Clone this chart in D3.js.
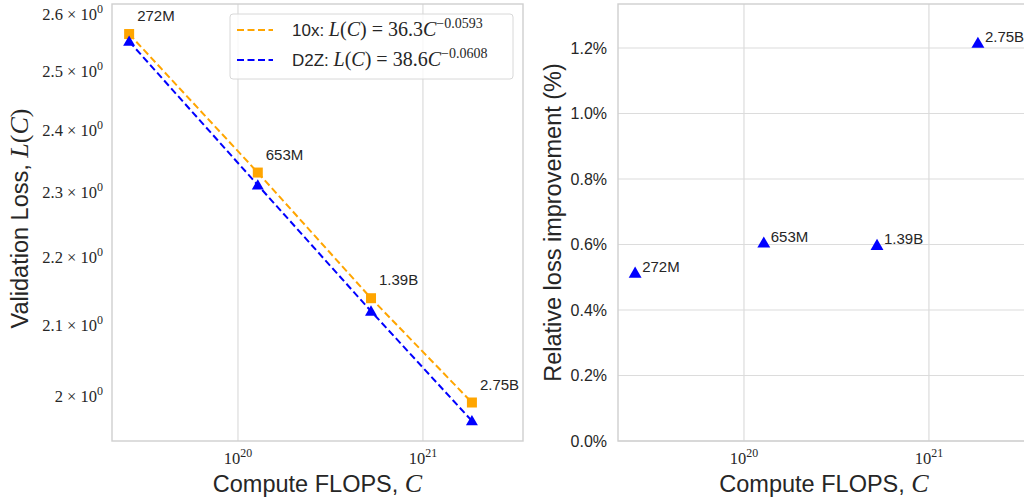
<!DOCTYPE html>
<html><head><meta charset="utf-8">
<script src="https://cdn.jsdelivr.net/npm/d3@7"></script>
<style>
html,body{margin:0;padding:0;background:#fff;}
svg{display:block;}
</style></head>
<body>
<svg id="chart" width="1024" height="497"></svg>
<script>
// ---------------- data ----------------
const models = ["272M", "653M", "1.39B", "2.75B"];
const computeFlops = [2.58e19, 1.28e20, 5.24e20, 1.84e21];
const loss10x = [2.566, 2.333, 2.140, 1.992];
const lossD2Z = [2.553, 2.313, 2.121, 1.967];
const relImprovement = [0.513, 0.605, 0.598, 1.215];
const fit10x = {label: "10x:", a: "36.3", b: "−0.0593"};
const fitD2Z = {label: "D2Z:", a: "38.6", b: "−0.0608"};
const leftYTicks = [2.0, 2.1, 2.2, 2.3, 2.4, 2.5, 2.6];
const leftYTickLabels = ["2", "2.1", "2.2", "2.3", "2.4", "2.5", "2.6"];
const xTicks = [1e20, 1e21];
const xTickExp = ["20", "21"];
const rightYTicks = [0, 0.2, 0.4, 0.6, 0.8, 1.0, 1.2];
const rightYTickLabels = ["0.0%", "0.2%", "0.4%", "0.6%", "0.8%", "1.0%", "1.2%"];

// ---------------- layout ----------------
const svg = d3.select("#chart");
const SANS = "'Liberation Sans', Arial, sans-serif";
const SERIF = "'Liberation Serif', 'Times New Roman', serif";
const TXT = "#262626";
const GRID = "#dcdcdc";
const SPINE = "#cfcfcf";
const ORANGE = "#FFA500", BLUE = "#0000FF";

const L = {x0: 112, x1: 523, y0: 4, y1: 441};
const R = {x0: 618, x1: 1029, y0: 4, y1: 441};

const xDom = [Math.pow(10, 19.319), Math.pow(10, 21.541)];
const xL = d3.scaleLog().domain(xDom).range([L.x0, L.x1]);
const xR = d3.scaleLog().domain(xDom).range([R.x0, R.x1]);
const yL = d3.scaleLog().domain([1.940, 2.6195]).range([L.y1, L.y0]);
const yR = d3.scaleLinear().domain([0, 1.3344]).range([R.y1, R.y0]);

svg.append("defs").append("clipPath").attr("id", "clipR")
  .append("rect").attr("x", R.x0).attr("y", R.y0 - 2).attr("width", R.x1 - R.x0).attr("height", R.y1 - R.y0 + 4);

// ---------------- left panel ----------------
const gl = svg.append("g");
gl.selectAll("line.vg").data(xTicks).join("line")
  .attr("x1", d => xL(d)).attr("x2", d => xL(d)).attr("y1", L.y0).attr("y2", L.y1)
  .attr("stroke", GRID).attr("stroke-width", 1.2);
gl.append("rect").attr("x", L.x0).attr("y", L.y0).attr("width", L.x1 - L.x0).attr("height", L.y1 - L.y0)
  .attr("fill", "none").attr("stroke", SPINE).attr("stroke-width", 1.4);

function powerLabel(g, x, y, base, exp, anchor, size) {
  const t = g.append("text").attr("x", x).attr("y", y).attr("text-anchor", anchor)
    .attr("font-family", SERIF).attr("font-size", size).attr("fill", TXT);
  t.append("tspan").text(base);
  t.append("tspan").attr("dy", -size * 0.42).attr("font-size", size * 0.72).text(exp);
  return t;
}
xTicks.forEach((d, i) => {
  powerLabel(gl, xL(d), 464, "10", xTickExp[i], "middle", 16.5);
  powerLabel(svg, xR(d), 464, "10", xTickExp[i], "middle", 16.5);
});
leftYTicks.forEach((d, i) => {
  const t = gl.append("text").attr("x", 103).attr("y", yL(d) + 5).attr("text-anchor", "end")
    .attr("font-family", SERIF).attr("font-size", 16.5).attr("fill", TXT);
  t.append("tspan").text(leftYTickLabels[i] + " × 10");
  t.append("tspan").attr("dy", -7).attr("font-size", 12).text("0");
});

// data lines + markers
const lineL = d3.line().x(d => xL(d[0])).y(d => yL(d[1]));
const ptsO = computeFlops.map((c, i) => [c, loss10x[i]]);
const ptsB = computeFlops.map((c, i) => [c, lossD2Z[i]]);
gl.append("path").attr("d", lineL(ptsO)).attr("fill", "none").attr("stroke", ORANGE)
  .attr("stroke-width", 2).attr("stroke-dasharray", "7,3.5");
gl.selectAll("rect.sq").data(ptsO).join("rect")
  .attr("x", d => xL(d[0]) - 5).attr("y", d => yL(d[1]) - 5).attr("width", 10).attr("height", 10)
  .attr("fill", ORANGE);
gl.append("path").attr("d", lineL(ptsB)).attr("fill", "none").attr("stroke", BLUE)
  .attr("stroke-width", 2).attr("stroke-dasharray", "7,3.5");
const tri = d3.symbol().type(d3.symbolTriangle).size(62);
gl.selectAll("path.tri").data(ptsB).join("path")
  .attr("transform", d => `translate(${xL(d[0])},${yL(d[1]) + 1})`).attr("d", tri).attr("fill", BLUE);
ptsO.forEach((d, i) => {
  gl.append("text").attr("x", xL(d[0]) + 8).attr("y", yL(d[1]) - 13)
    .attr("font-family", SANS).attr("font-size", 15).attr("fill", TXT).text(models[i]);
});

// legend
const lg = gl.append("g");
lg.append("rect").attr("x", 230).attr("y", 14).attr("width", 283).attr("height", 65).attr("rx", 3)
  .attr("fill", "rgba(255,255,255,0.8)").attr("stroke", "#d8d8d8").attr("stroke-width", 1);
[[fit10x, ORANGE, 30], [fitD2Z, BLUE, 60]].forEach(([f, col, y]) => {
  lg.append("line").attr("x1", 237).attr("x2", 273).attr("y1", y).attr("y2", y)
    .attr("stroke", col).attr("stroke-width", 2).attr("stroke-dasharray", "7,3.5");
  const t = lg.append("text").attr("x", 292).attr("y", y + 6).attr("fill", TXT).attr("font-size", 17);
  t.append("tspan").attr("font-family", SANS).text(f.label + " ");
  t.append("tspan").attr("font-family", SERIF).attr("font-style", "italic").attr("font-size", 20).text("L");
  t.append("tspan").attr("font-family", SERIF).attr("font-size", 20).text("(");
  t.append("tspan").attr("font-family", SERIF).attr("font-style", "italic").attr("font-size", 20).text("C");
  t.append("tspan").attr("font-family", SERIF).attr("font-size", 20).text(") = " + f.a);
  t.append("tspan").attr("font-family", SERIF).attr("font-style", "italic").attr("font-size", 20).text("C");
  t.append("tspan").attr("font-family", SERIF).attr("font-size", 14).attr("dy", -8).text(f.b);
});

function xTitle(cx) {
  const t = svg.append("text").attr("x", cx).attr("y", 492).attr("text-anchor", "middle")
    .attr("fill", TXT).attr("font-size", 23.5);
  t.append("tspan").attr("font-family", SANS).text("Compute FLOPS, ");
  t.append("tspan").attr("font-family", SERIF).attr("font-style", "italic").attr("font-size", 26).text("C");
}
xTitle((L.x0 + L.x1) / 2);
xTitle(318 + (R.x0 - L.x0));
{
  const t = svg.append("text").attr("transform", `translate(28,${(L.y0 + L.y1) / 2 - 4}) rotate(-90)`)
    .attr("text-anchor", "middle").attr("fill", TXT).attr("font-size", 23.5);
  t.append("tspan").attr("font-family", SANS).text("Validation Loss, ");
  t.append("tspan").attr("font-family", SERIF).attr("font-style", "italic").attr("font-size", 26).text("L");
  t.append("tspan").attr("font-family", SERIF).attr("font-size", 26).text("(");
  t.append("tspan").attr("font-family", SERIF).attr("font-style", "italic").attr("font-size", 26).text("C");
  t.append("tspan").attr("font-family", SERIF).attr("font-size", 26).text(")");
}

// ---------------- right panel ----------------
const gr = svg.append("g");
const grc = gr.append("g").attr("clip-path", "url(#clipR)");
grc.selectAll("line.hg").data(rightYTicks).join("line")
  .attr("x1", R.x0).attr("x2", R.x1).attr("y1", d => yR(d)).attr("y2", d => yR(d))
  .attr("stroke", GRID).attr("stroke-width", 1.2);
grc.selectAll("line.vg").data(xTicks).join("line")
  .attr("x1", d => xR(d)).attr("x2", d => xR(d)).attr("y1", R.y0).attr("y2", R.y1)
  .attr("stroke", GRID).attr("stroke-width", 1.2);
gr.append("rect").attr("x", R.x0).attr("y", R.y0).attr("width", R.x1 - R.x0).attr("height", R.y1 - R.y0)
  .attr("fill", "none").attr("stroke", SPINE).attr("stroke-width", 1.4);
rightYTicks.forEach((d, i) => {
  gr.append("text").attr("x", 607).attr("y", yR(d) + 5.5).attr("text-anchor", "end")
    .attr("font-family", SANS).attr("font-size", 16).attr("fill", TXT).text(rightYTickLabels[i]);
});
const triR = d3.symbol().type(d3.symbolTriangle).size(72);
computeFlops.forEach((c, i) => {
  gr.append("path").attr("transform", `translate(${xR(c)},${yR(relImprovement[i]) + 1})`)
    .attr("d", triR).attr("fill", BLUE);
  gr.append("text").attr("x", xR(c) + 7).attr("y", yR(relImprovement[i]) - 1)
    .attr("font-family", SANS).attr("font-size", 15).attr("fill", TXT).text(models[i]);
});
svg.append("text").attr("transform", `translate(561,${(R.y0 + R.y1) / 2}) rotate(-90)`)
  .attr("text-anchor", "middle").attr("font-family", SANS).attr("font-size", 23.5).attr("fill", TXT)
  .text("Relative loss improvement (%)");
</script>
</body></html>
